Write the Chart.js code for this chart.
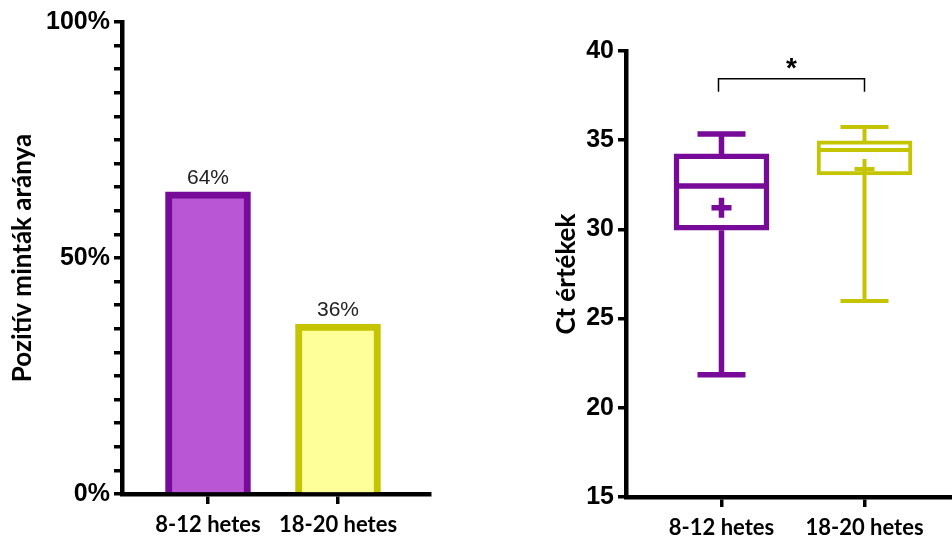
<!DOCTYPE html>
<html>
<head>
<meta charset="utf-8">
<script src="https://cdn.jsdelivr.net/npm/chart.js@4/dist/chart.umd.min.js"></script>
<style>
  html, body { margin: 0; padding: 0; background: #fff; overflow: hidden; }
  #wrap { position: relative; width: 952px; height: 536px; }
  canvas { position: absolute; top: 0; }
  #rate { left: 0; }
  #ct { left: 544px; }
</style>
</head>
<body>
<div id="wrap">
  <canvas id="rate" width="440" height="536"></canvas>
  <canvas id="ct" width="408" height="536"></canvas>
</div>
<script>
// Groups
const categories = ['8-12 hetes', '18-20 hetes'];

// Share of positive samples (%)
const positiveRate = [64, 36];
const rateLabelTicks = [0, 50, 100];

// Ct value distribution per group
const ctMin    = [21.85, 25.99];
const ctQ1     = [29.95, 33.05];
const ctMedian = [32.43, 34.45];
const ctQ3     = [34.23, 34.96];
const ctMax    = [35.35, 35.74];
const ctMean   = [31.21, 33.39];
const ctTicks  = [15, 20, 25, 30, 35, 40];

// Significance bracket between the two groups
const sigLevel = 38.45;
const sigLabel = '*';

// Styling
const strokeColors = ['#770A99', '#C4C400'];
const fillColors = ['#B856D6', '#FFFF99'];
const boxLineWidths = [5.5, 4];

const tickFont  = { family: '"Liberation Sans", Arial, sans-serif', size: 25, weight: 'bold' };
const catFont   = { family: 'Lato, sans-serif', size: 22, weight: 'bold' };
const titleFont = { family: 'Lato, sans-serif', size: 26, weight: 'bold' };

function categoryAxis(min, max, height) {
  return {
    type: 'linear', min, max, offset: false, z: 1,
    afterBuildTicks: s => { s.ticks = categories.map((_, i) => ({ value: i + 1 })); },
    afterFit: s => { s.height = height; },
    ticks: {
      callback: v => categories[v - 1],
      font: catFont, color: '#000', padding: 8, maxRotation: 0, autoSkip: false
    },
    grid: { offset: false, drawOnChartArea: false, drawTicks: true, tickLength: 10, color: '#000', lineWidth: 3.5 },
    border: { color: '#000', width: 4.5 }
  };
}

function valueAxis(min, max, step, width, title, fmt) {
  return {
    type: 'linear', min, max,
    afterFit: s => { s.width = width; },
    ticks: {
      stepSize: step, autoSkip: false, callback: fmt,
      font: tickFont, color: '#000', padding: 4
    },
    grid: { drawOnChartArea: false, drawTicks: true, tickLength: 8, color: '#000', lineWidth: 3.5 },
    border: { color: '#000', width: 4.5 },
    title: { display: true, text: title, font: titleFont, color: '#000', padding: { top: 7, bottom: 0 } }
  };
}

// Percent labels above the bars
const valueLabels = {
  id: 'valueLabels',
  afterDatasetsDraw(chart) {
    const { ctx } = chart;
    const meta = chart.getDatasetMeta(0);
    ctx.save();
    ctx.font = '21px "Liberation Sans", Arial, sans-serif';
    ctx.fillStyle = '#222';
    ctx.textAlign = 'center';
    ctx.textBaseline = 'alphabetic';
    meta.data.forEach((bar, i) => ctx.fillText(positiveRate[i] + '%', bar.x, bar.y - 8));
    ctx.restore();
  }
};

new Chart(document.getElementById('rate'), {
  type: 'bar',
  data: {
    datasets: [{
      data: positiveRate.map((v, i) => ({ x: i + 1, y: v })),
      backgroundColor: fillColors,
      borderColor: strokeColors,
      borderWidth: 7,
      barThickness: 85
    }]
  },
  options: {
    responsive: false, animation: false,
    layout: { padding: { left: 0, top: 22, right: 10, bottom: 0 } },
    plugins: { legend: { display: false }, tooltip: { enabled: false } },
    scales: {
      x: categoryAxis(0.3385, 2.7077, 42),
      y: valueAxis(0, 100, 5, 122, 'Pozitív minták aránya',
        v => rateLabelTicks.includes(v) ? v + '%' : '')
    }
  },
  plugins: [valueLabels]
});

// Median, whiskers, mean marker and significance bracket
const boxExtras = {
  id: 'boxExtras',
  afterDatasetsDraw(chart) {
    const { ctx } = chart;
    const xs = chart.scales.x, ys = chart.scales.y;
    const meta = chart.getDatasetMeta(0);
    ctx.save();
    ctx.lineCap = 'butt';
    categories.forEach((_, i) => {
      const box = meta.data[i];
      const cx = xs.getPixelForValue(i + 1);
      const half = box.width / 2;
      const capHalf = 24, meanHalf = 10;
      ctx.strokeStyle = strokeColors[i];
      ctx.lineWidth = boxLineWidths[i];
      const yQ1 = ys.getPixelForValue(ctQ1[i]);
      const yQ3 = ys.getPixelForValue(ctQ3[i]);
      const yMed = ys.getPixelForValue(ctMedian[i]);
      const yMax = ys.getPixelForValue(ctMax[i]);
      const yMin = ys.getPixelForValue(ctMin[i]);
      const yMean = ys.getPixelForValue(ctMean[i]);
      ctx.beginPath();
      // median
      ctx.moveTo(cx - half, yMed); ctx.lineTo(cx + half, yMed);
      // upper whisker + cap
      ctx.moveTo(cx, yQ3); ctx.lineTo(cx, yMax);
      ctx.moveTo(cx - capHalf, yMax); ctx.lineTo(cx + capHalf, yMax);
      // lower whisker + cap
      ctx.moveTo(cx, yQ1); ctx.lineTo(cx, yMin);
      ctx.moveTo(cx - capHalf, yMin); ctx.lineTo(cx + capHalf, yMin);
      // mean marker
      ctx.moveTo(cx - meanHalf, yMean); ctx.lineTo(cx + meanHalf, yMean);
      ctx.moveTo(cx, yMean - meanHalf); ctx.lineTo(cx, yMean + meanHalf);
      ctx.stroke();
    });
    // significance bracket
    const x1 = xs.getPixelForValue(1) - 3, x2 = xs.getPixelForValue(2);
    const yb = ys.getPixelForValue(sigLevel);
    ctx.strokeStyle = '#000';
    ctx.lineWidth = 1.5;
    ctx.beginPath();
    ctx.moveTo(x1, yb + 13); ctx.lineTo(x1, yb); ctx.lineTo(x2, yb); ctx.lineTo(x2, yb + 13);
    ctx.stroke();
    ctx.fillStyle = '#000';
    ctx.font = 'bold 28px "Liberation Sans", Arial, sans-serif';
    ctx.textAlign = 'center';
    ctx.textBaseline = 'alphabetic';
    ctx.fillText(sigLabel, (x1 + x2) / 2, yb - 2);
    ctx.restore();
  }
};

new Chart(document.getElementById('ct'), {
  type: 'bar',
  data: {
    datasets: [{
      data: categories.map((_, i) => ({ x: i + 1, y: [ctQ1[i], ctQ3[i]] })),
      backgroundColor: '#fff',
      borderColor: strokeColors,
      borderWidth: boxLineWidths,
      borderSkipped: false,
      barThickness: 95
    }]
  },
  options: {
    responsive: false, animation: false,
    layout: { padding: { left: 0, top: 51, right: 0, bottom: 0 } },
    plugins: { legend: { display: false }, tooltip: { enabled: false } },
    scales: {
      x: categoryAxis(0.3323, 2.6118, 39),
      y: valueAxis(15, 40, 5, 82, 'Ct értékek',
        v => ctTicks.includes(v) ? String(v) : '')
    }
  },
  plugins: [boxExtras]
});
</script>
</body>
</html>
